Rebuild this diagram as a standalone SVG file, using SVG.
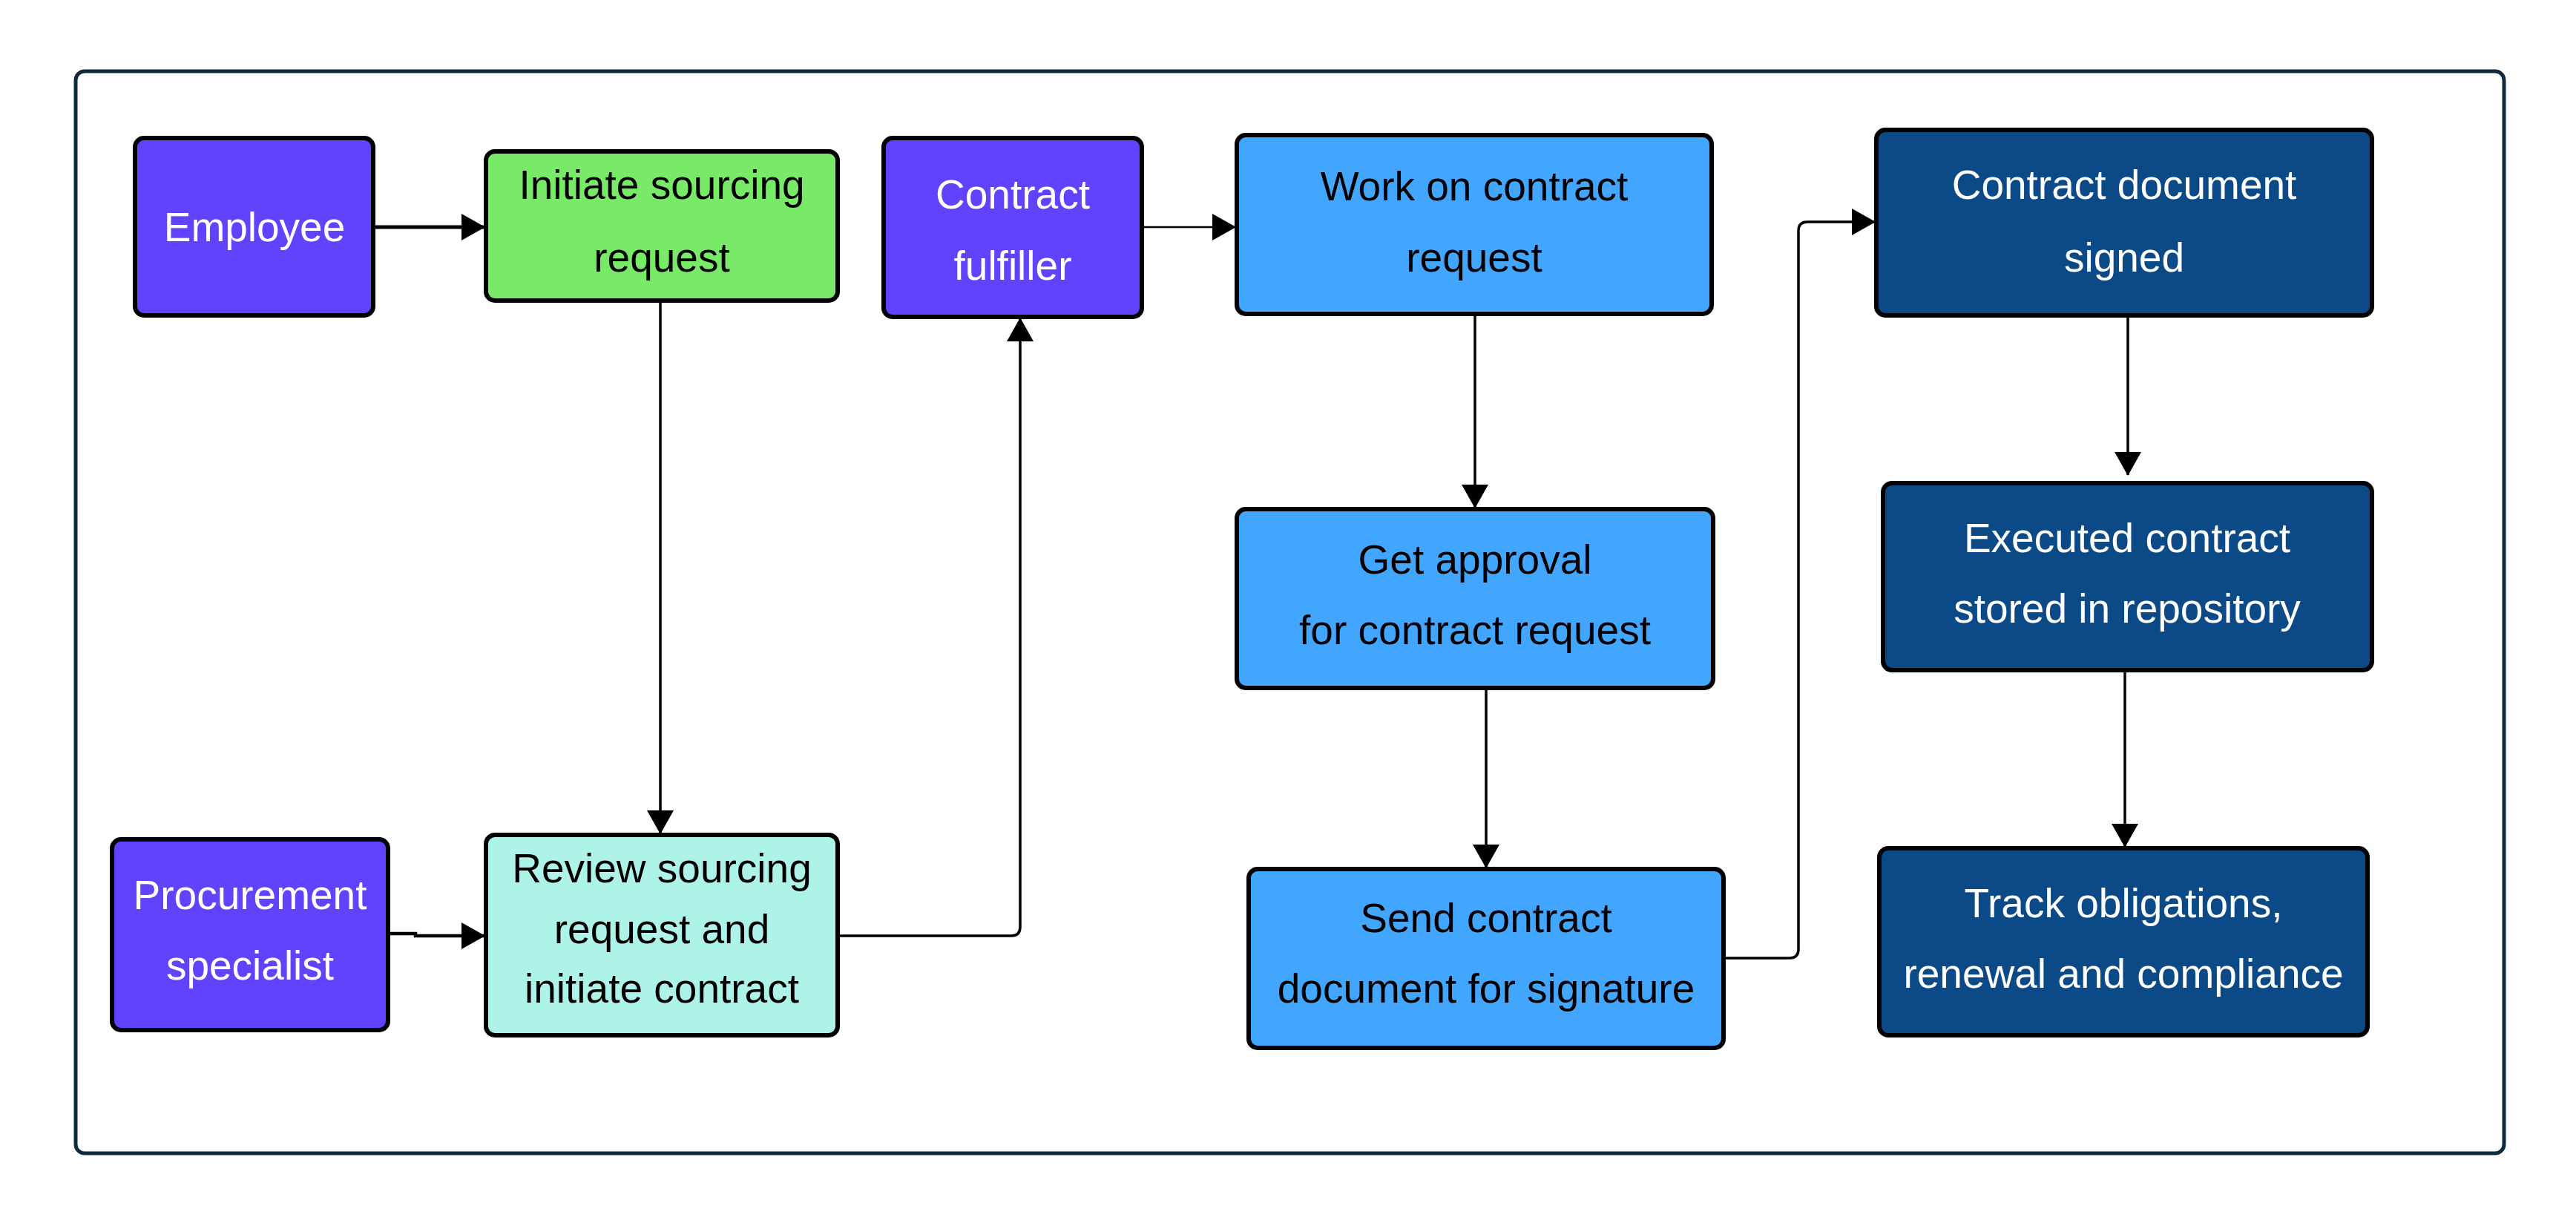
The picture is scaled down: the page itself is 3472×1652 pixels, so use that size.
<svg xmlns="http://www.w3.org/2000/svg" width="3472" height="1652" viewBox="0 0 3472 1652">
<defs>
<marker id="arr" markerUnits="userSpaceOnUse" markerWidth="34" markerHeight="36" refX="31" refY="18" orient="auto">
<path d="M0,0 L32,18 L0,36 z" fill="#000"/>
</marker>
<style>
.box{stroke:#000;stroke-width:6}
.purple{fill:#6342FD}
.green{fill:#78EA68}
.teal{fill:#AEF3E8}
.blue{fill:#43A6FE}
.navy{fill:#0B4A87}
.t{font-family:"Liberation Sans",Arial,sans-serif;font-size:55px;text-anchor:middle}
.w{fill:#fff}
.k{fill:#000}
.c{fill:none;stroke:#000;stroke-width:3.5;marker-end:url(#arr)}
</style>
</defs>
<rect x="0" y="0" width="3472" height="1652" fill="#fff"/>
<rect x="102" y="96" width="3273" height="1458" rx="12" fill="#fff" stroke="#0F2A3C" stroke-width="5"/>

<g id="connectors">
<path class="c" d="M503,306 H653" style="stroke-width:5"/>
<path class="c" d="M890,405 V1123"/>
<path class="c" d="M523,1258 H560 V1261 H653" style="stroke-width:4.5"/>
<path class="c" d="M1129,1261 H1363 Q1375,1261 1375,1249 V429"/>
<path class="c" d="M1539,306 H1665" style="stroke-width:2.5"/>
<path class="c" d="M1988,423 V684"/>
<path class="c" d="M2003,927 V1169"/>
<path class="c" d="M2323,1291 H2412 Q2424,1291 2424,1279 V311 Q2424,299 2436,299 H2527"/>
<path class="c" d="M2868,425 V640"/>
<path class="c" d="M2864,903 V1141"/>
</g>

<g id="employee">
<rect class="box purple" x="182" y="186" width="321" height="239" rx="12"/>
<text class="t w" x="343" y="325">Employee</text>
</g>
<g id="initiate">
<rect class="box green" x="655" y="204" width="474" height="201" rx="12"/>
<text class="t k" x="892" y="268">Initiate sourcing</text>
<text class="t k" x="892" y="366">request</text>
</g>
<g id="fulfiller">
<rect class="box purple" x="1191" y="186" width="348" height="241" rx="12"/>
<text class="t w" x="1365" y="281">Contract</text>
<text class="t w" x="1365" y="377">fulfiller</text>
</g>
<g id="work">
<rect class="box blue" x="1667" y="182" width="640" height="241" rx="12"/>
<text class="t k" x="1987" y="270">Work on contract</text>
<text class="t k" x="1987" y="366">request</text>
</g>
<g id="signed">
<rect class="box navy" x="2529" y="175" width="668" height="250" rx="12"/>
<text class="t w" x="2863" y="268">Contract document</text>
<text class="t w" x="2863" y="366">signed</text>
</g>
<g id="approval">
<rect class="box blue" x="1667" y="686" width="642" height="241" rx="12"/>
<text class="t k" x="1988" y="773">Get approval</text>
<text class="t k" x="1988" y="868">for contract request</text>
</g>
<g id="executed">
<rect class="box navy" x="2538" y="651" width="659" height="252" rx="12"/>
<text class="t w" x="2867" y="744">Executed contract</text>
<text class="t w" x="2867" y="839">stored in repository</text>
</g>
<g id="procurement">
<rect class="box purple" x="151" y="1131" width="372" height="257" rx="12"/>
<text class="t w" x="337" y="1225">Procurement</text>
<text class="t w" x="337" y="1320">specialist</text>
</g>
<g id="review">
<rect class="box teal" x="655" y="1125" width="474" height="270" rx="12"/>
<text class="t k" x="892" y="1189">Review sourcing</text>
<text class="t k" x="892" y="1271">request and</text>
<text class="t k" x="892" y="1351">initiate contract</text>
</g>
<g id="send">
<rect class="box blue" x="1683" y="1171" width="640" height="241" rx="12"/>
<text class="t k" x="2003" y="1256">Send contract</text>
<text class="t k" x="2003" y="1351">document for signature</text>
</g>
<g id="track">
<rect class="box navy" x="2533" y="1143" width="658" height="252" rx="12"/>
<text class="t w" x="2862" y="1236">Track obligations,</text>
<text class="t w" x="2862" y="1331">renewal and compliance</text>
</g>
</svg>
